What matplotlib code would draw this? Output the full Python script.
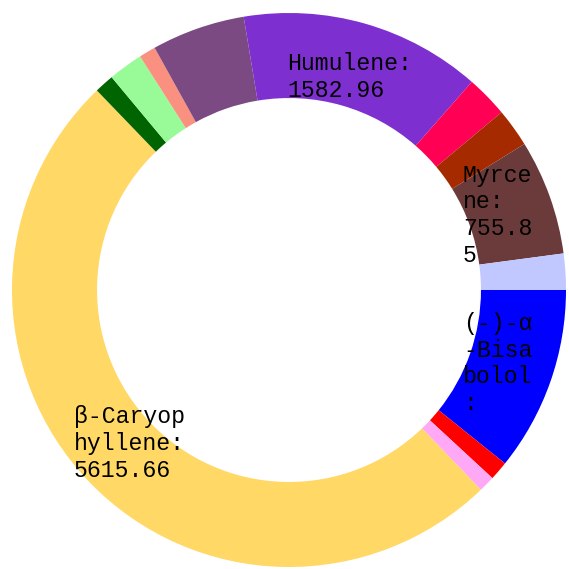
import numpy as np
import matplotlib
matplotlib.use("Agg")
import matplotlib.pyplot as plt

# Data (clockwise from 3 o'clock)
names = ["(-)-α-Bisabolol", "Terpinolene", "Ocimene", "β-Caryophyllene",
         "Guaiol", "Linalool", "β-Pinene", "Limonene", "Humulene",
         "α-Pinene", "Nerolidol", "Myrcene", "Caryophyllene Oxide"]
values = [1210.0, 124.8, 106.0, 5615.66, 128.0, 227.7, 109.0, 612.0,
          1582.96, 274.5, 252.7, 755.85, 237.0]
colors = ["#0000FF", "#FF0000", "#FFA8F5", "#FFD865", "#006400", "#98FB98",
          "#FA9080", "#7B4A82", "#7D2FD0", "#FF0055", "#A52A00", "#6B3A3A",
          "#C0C8FF"]
value_labels = ["1210.00", "", "", "5615.66", "", "", "", "", "1582.96",
                "", "", "755.85", ""]

# layout for labelled slices: wrap width (chars), max lines
label_layout = {0: (5, 4), 3: (8, 3), 8: (9, 2), 11: (5, 4)}

W = H = 569
fig = plt.figure(figsize=(W / 100, H / 100), dpi=100)
ax = fig.add_axes([0, 0, 1, 1])
cx, cy, R = 289, 290, 277  # pixel center (from top) and radius
scale = W / R
xmin = -cx / R
ymin = -(H - cy) / R
ax.axis("off")

wedges, _ = ax.pie(values, colors=colors, startangle=0, counterclock=False,
                   radius=1.0, wedgeprops=dict(width=0.307, linewidth=0),
                   normalize=True)
ax.set_xlim(xmin, xmin + scale)
ax.set_ylim(ymin, ymin + scale)
ax.set_aspect("auto")


def wrap(s, n):
    return [s[i:i + n] for i in range(0, len(s), n)]


total = sum(values)
cum = np.cumsum([0] + values)
for i, (w, maxl) in label_layout.items():
    mid = (cum[i] + cum[i + 1]) / 2 / total * 360.0
    ang = np.deg2rad(-mid)
    r = 0.80
    x, y = r * np.cos(ang), r * np.sin(ang)
    lines = wrap(names[i] + ":", w) + wrap(value_labels[i], w)
    lines = lines[:maxl]
    ax.text(x, y, "\n".join(lines), ha="left", va="center",
            family=["Liberation Mono", "DejaVu Sans Mono"], fontsize=16.7,
            linespacing=1.2, color="#000000", transform=ax.transData)

# centre each left-aligned label block horizontally on its anchor
fig.canvas.draw()
renderer = fig.canvas.get_renderer()
inv = ax.transData.inverted()
for t in ax.texts:
    bb = t.get_window_extent(renderer)
    (x0, _), (x1, _) = inv.transform([(bb.x0, 0), (bb.x1, 0)])
    t.set_x(t.get_position()[0] - (x1 - x0) / 2)

fig.savefig("out.png", dpi=100)
